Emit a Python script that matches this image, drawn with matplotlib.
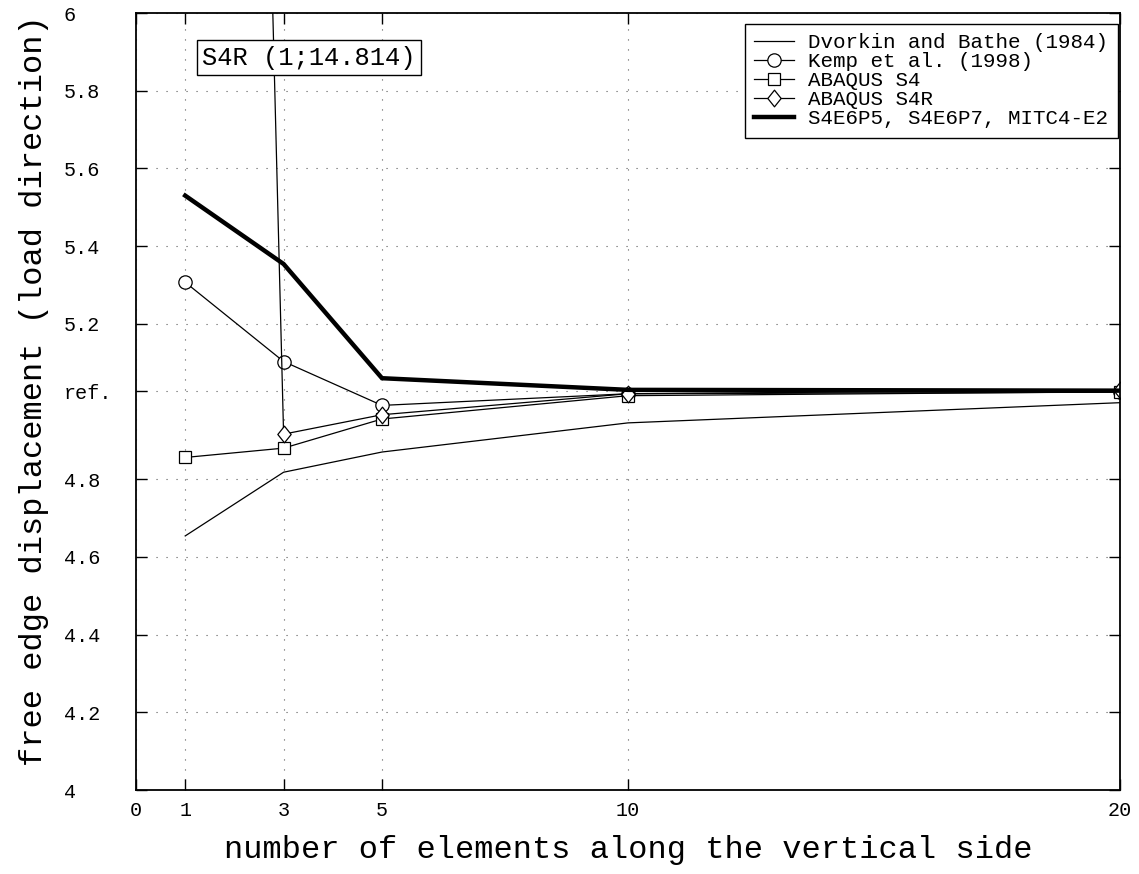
import numpy as np
import matplotlib.pyplot as plt
from matplotlib.path import Path

plt.rcParams['font.family'] = ['Liberation Mono', 'DejaVu Sans Mono']

# data (Raasch hook convergence)
n_elem = [1, 3, 5, 10, 20]
dvorkin = [4.654, 4.818, 4.870, 4.945, 4.997]
kemp = [5.307, 5.103, 4.990, 5.020, 5.024]
abaqus_s4 = [4.856, 4.880, 4.955, 5.015, 5.025]
abaqus_s4r = [14.814, 4.916, 4.966, 5.020, 5.030]
s4e6p5 = [5.530, 5.354, 5.060, 5.030, 5.028]

ref_value = 5.027
x_ticks = [0, 1, 3, 5, 10, 20]
y_ticks = [4, 4.2, 4.4, 4.6, 4.8, ref_value, 5.2, 5.4, 5.6, 5.8, 6]
y_ticklabels = ['4', '4.2', '4.4', '4.6', '4.8', 'ref.', '5.2', '5.4', '5.6', '5.8', '6']

# tall diamond marker
diamond = Path([(0, 1), (0.8, 0), (0, -1), (-0.8, 0), (0, 1)],
               [Path.MOVETO, Path.LINETO, Path.LINETO, Path.LINETO, Path.CLOSEPOLY])

fig = plt.figure(figsize=(11.39, 8.74), dpi=100)
ax = fig.add_axes([0.1194, 0.0961, 0.8639, 0.8890])

lw = 0.9
ax.plot(n_elem, dvorkin, color='black', lw=lw, label='Dvorkin and Bathe (1984)')
ax.plot(n_elem, kemp, color='black', lw=lw, marker='o', ms=9.6,
        mfc='white', mec='black', mew=lw, label='Kemp et al. (1998)')
ax.plot(n_elem, abaqus_s4, color='black', lw=lw, marker='s', ms=8.4,
        mfc='white', mec='black', mew=lw, label='ABAQUS S4')
ax.plot(n_elem, abaqus_s4r, color='black', lw=lw, marker=diamond, ms=12,
        mfc='white', mec='black', mew=lw, label='ABAQUS S4R')
ax.plot(n_elem, s4e6p5, color='black', lw=3.2, solid_joinstyle='miter',
        label='S4E6P5, S4E6P7, MITC4-E2')

ax.set_xlim(0, 20)
ax.set_ylim(4, 6)
ax.set_xticks(x_ticks)
ax.set_yticks(y_ticks)
ax.set_yticklabels(y_ticklabels)

ax.grid(True, color='0.35', lw=0.8, linestyle=(0, (1, 8)))
ax.tick_params(direction='in', top=True, right=True, length=8, width=1,
               labelsize=14.5)
ax.tick_params(axis='y', pad=52)
ax.tick_params(axis='x', pad=8)
for lab in ax.get_yticklabels():
    lab.set_horizontalalignment('left')
for sp in ax.spines.values():
    sp.set_linewidth(1.3)

ax.set_xlabel('number of elements along the vertical side', fontsize=23)
ax.set_ylabel('free edge displacement (load direction)', fontsize=23)
ax.xaxis.set_label_coords(0.5, -0.058)
ax.yaxis.set_label_coords(-0.088, 0.514)

ax.text(0.1755, 0.9427, 'S4R (1;14.814)', transform=ax.transAxes,
        ha='center', va='center', fontsize=18.4,
        bbox=dict(boxstyle='square,pad=0.2', fc='white', ec='black', lw=1))

leg = ax.legend(loc='upper right', bbox_to_anchor=(0.9977, 0.9858),
                borderaxespad=0, fontsize=15, handlelength=1.9,
                handletextpad=0.7, labelspacing=0, numpoints=1,
                fancybox=False, framealpha=1, edgecolor='black',
                borderpad=0.45)
leg.get_frame().set_linewidth(1)

fig.savefig('out.png', dpi=100)
